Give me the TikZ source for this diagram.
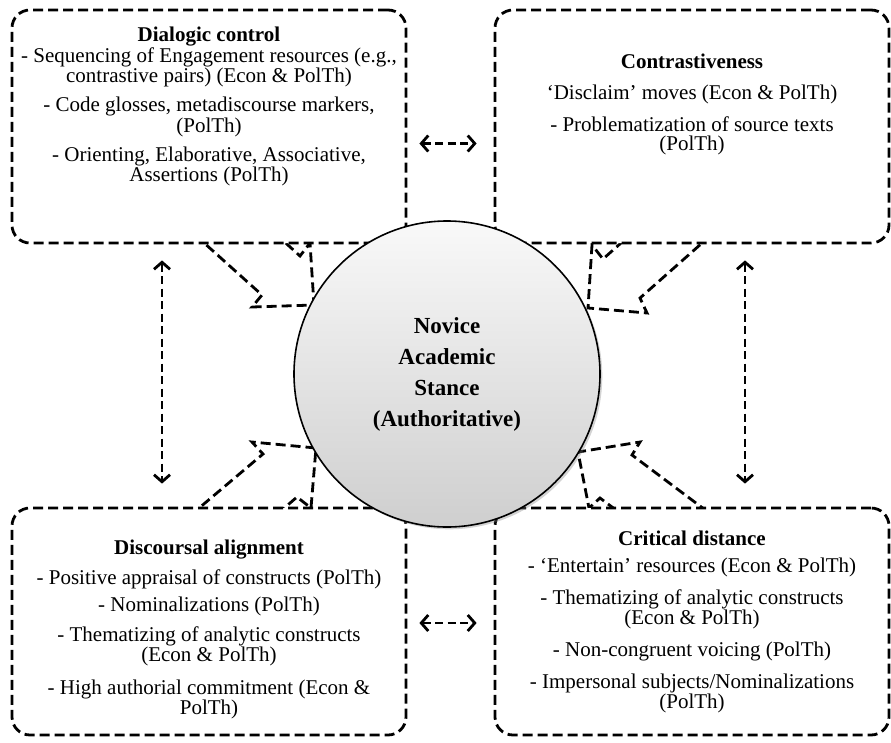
\documentclass[tikz,border=0pt]{standalone}
\usepackage{fontspec}
\setmainfont{Liberation Serif}
\usetikzlibrary{positioning,arrows.meta,shadows}

\begin{document}
\begin{tikzpicture}[x=1pt,y=-1pt,
panelnode/.style={rectangle, rounded corners=18pt, draw=black, fill=white, line width=2.8pt, dash pattern=on 10pt off 5pt, minimum width=394pt},
paneltext/.style={align=center, inner sep=0pt, font=\fontsize{21}{19}\selectfont},
bigarrow/.style={draw=black, fill=white, line width=2.8pt, dash pattern=on 10pt off 5pt, line join=miter},
linkarrow/.style={{Straight Barb[length=7pt,width=16pt,line width=2.8pt]}-{Straight Barb[length=7pt,width=16pt,line width=2.8pt]}, line width=2.8pt, dash pattern=on 8pt off 4.5pt},
corenode/.style={circle, draw=black, line width=1.6pt, top color=gray!5, bottom color=gray!38, minimum size=306pt, align=center, font=\fontsize{23}{31}\selectfont\bfseries, drop shadow={opacity=0.35}},
]
\useasboundingbox (0,0) rectangle (891,742);

%Block arrows
\draw[bigarrow] (173,215) -- (262,295) -- (252,307) -- (314,305) -- (310,243) -- (300,256) -- (256,216) -- cycle;
\draw[bigarrow] (745,205) -- (640,298) -- (647,313) -- (588,308) -- (592,245) -- (603,259) -- (648,219) -- cycle;
\draw[bigarrow] (179,525) -- (263,454) -- (252,442) -- (316,448) -- (311,508) -- (297,497) -- (267,523) -- cycle;
\draw[bigarrow] (720,521) -- (632,455) -- (640,442) -- (578,452) -- (589,508) -- (600,498) -- (632,522) -- cycle;

%Nodes
\node[panelnode, minimum height=233pt] (dialog)   at (209,126.5) {};
\node[panelnode, minimum height=233pt] (contrast) at (692,126.5) {};
\node[panelnode, minimum height=227pt] (align)    at (209,621.5) {};
\node[panelnode, minimum height=227pt] (distance) at (692,621.5) {};
\node[corenode] (core) at (447,374) {Novice\\Academic\\Stance\\(Authoritative)};

\node[paneltext, below=18pt of dialog.north] (dialogtxt) {\textbf{Dialogic control}\\[1pt]
- Sequencing of Engagement resources (e.g.,\\ contrastive pairs) (Econ \& PolTh)\\[9pt]
- Code glosses, metadiscourse markers,\\ (PolTh)\\[9pt]
- Orienting, Elaborative, Associative,\\ Assertions (PolTh)};
\node[paneltext, below=45pt of contrast.north] (contrasttxt) {\textbf{Contrastiveness}\\[12pt]
‘Disclaim’ moves (Econ \& PolTh)\\[12pt]
- Problematization of source texts\\ (PolTh)};
\node[paneltext, below=33pt of align.north] (aligntxt) {\textbf{Discoursal alignment}\\[10pt]
- Positive appraisal of constructs (PolTh)\\[7pt]
- Nominalizations (PolTh)\\[9pt]
- Thematizing of analytic constructs\\ (Econ \& PolTh)\\[13pt]
- High authorial commitment (Econ \&\\ PolTh)};
\node[paneltext, below=24pt of distance.north] (distancetxt) {\textbf{Critical distance}\\[8pt]
- ‘Entertain’ resources (Econ \& PolTh)\\[12pt]
- Thematizing of analytic constructs\\ (Econ \& PolTh)\\[12pt]
- Non-congruent voicing (PolTh)\\[12pt]
- Impersonal subjects/Nominalizations\\ (PolTh)};

%Lines
\draw[linkarrow, shorten <=12pt, shorten >=17pt] ([yshift=-17pt]dialog.east) -- ([yshift=-17pt]contrast.west);
\draw[linkarrow, shorten <=12pt, shorten >=17pt] ([yshift=-1.5pt]align.east) -- ([yshift=-1.5pt]distance.west);
\draw[linkarrow, shorten <=16pt, shorten >=23pt] ([xshift=-47pt]dialog.south) -- ([xshift=-47pt]align.north);
\draw[linkarrow, shorten <=16pt, shorten >=23pt] ([xshift=53pt]contrast.south) -- ([xshift=53pt]distance.north);
\end{tikzpicture}
\end{document}
